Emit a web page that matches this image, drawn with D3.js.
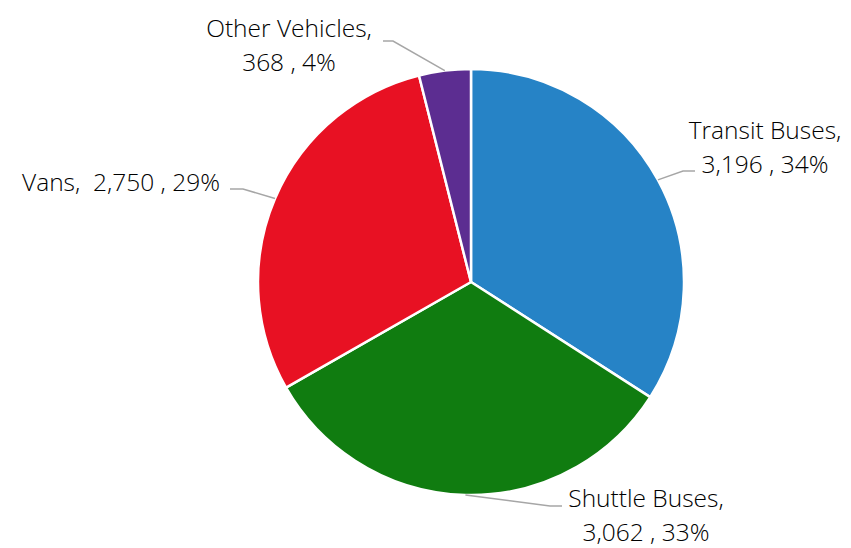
<!DOCTYPE html>
<html>
<head>
<meta charset="utf-8">
<script src="https://cdn.jsdelivr.net/npm/d3@7"></script>
<style>
  body { margin: 0; background: #fff; }
  svg text { font-family: "Open Sans", "Noto Sans", sans-serif; font-weight: 300; fill: #000; }
</style>
</head>
<body>
<div id="vizcont"></div>
<script>
// data
var categories = ["Transit Buses", "Shuttle Buses", "Vans", "Other Vehicles"];
var counts = [3196, 3062, 2750, 368];
var percents = ["34%", "33%", "29%", "4%"];
var colors = ["#2683C6", "#107C10", "#E81123", "#5C2D91"];

// label layout: text anchor point, elbow of the leader line, end of the leader line
var labelPos = [
  {x: 765, y: 130, lines: 2, elbow: [683, 171], end: [695, 171]},
  {x: 646, y: 498, lines: 2, elbow: [550, 506], end: [562, 506]},
  {x: 121, y: 182, lines: 1, elbow: [243, 189], end: [230, 189]},
  {x: 289, y: 28, lines: 2, elbow: [393, 41], end: [383, 41]}
];

var width = 851, height = 548;
var cx = 471, cy = 282, radius = 213;

var svg = d3.select("#vizcont")
  .append("svg")
  .attr("width", width)
  .attr("height", height);

var data = categories.map(function(c, i) {
  return {name: c, value: counts[i], pct: percents[i], color: colors[i], lab: labelPos[i]};
});

var pie = d3.pie()
  .value(function(d) { return d.value; })
  .sort(null);

var arc = d3.arc().innerRadius(0).outerRadius(radius);

var g = svg.append("g")
  .attr("transform", "translate(" + cx + "," + cy + ")");

var arcs = pie(data);

g.selectAll("path")
  .data(arcs)
  .enter()
  .append("path")
  .attr("d", arc)
  .style("fill", function(d) { return d.data.color; })
  .style("stroke", "#fff")
  .style("stroke-width", 2.5)
  .style("stroke-linejoin", "round");

// leader lines from the outer edge at mid angle
svg.selectAll("polyline.leader")
  .data(arcs)
  .enter()
  .append("polyline")
  .attr("class", "leader")
  .attr("points", function(d) {
    var a = (d.startAngle + d.endAngle) / 2;
    var px = cx + radius * Math.sin(a);
    var py = cy - radius * Math.cos(a);
    return [[px, py], d.data.lab.elbow, d.data.lab.end].map(function(p) { return p.join(","); }).join(" ");
  })
  .style("fill", "none")
  .style("stroke", "#a6a6a6")
  .style("stroke-width", 1.5);

var fmt = d3.format(",");

var labels = svg.selectAll("text.lbl")
  .data(data)
  .enter()
  .append("text")
  .attr("class", "lbl")
  .attr("text-anchor", "middle")
  .style("font-size", "24.5px");

labels.each(function(d) {
  var t = d3.select(this);
  if (d.lab.lines === 1) {
    t.append("tspan")
      .attr("x", d.lab.x)
      .attr("y", d.lab.y)
      .attr("dy", "0.35em")
      .attr("xml:space", "preserve")
      .text(d.name + ",  " + fmt(d.value) + " , " + d.pct);
  } else {
    t.append("tspan")
      .attr("x", d.lab.x)
      .attr("y", d.lab.y)
      .attr("dy", "0.35em")
      .text(d.name + ",");
    t.append("tspan")
      .attr("x", d.lab.x)
      .attr("y", d.lab.y + 34)
      .attr("dy", "0.35em")
      .text(fmt(d.value) + " , " + d.pct);
  }
});
</script>
</body>
</html>
